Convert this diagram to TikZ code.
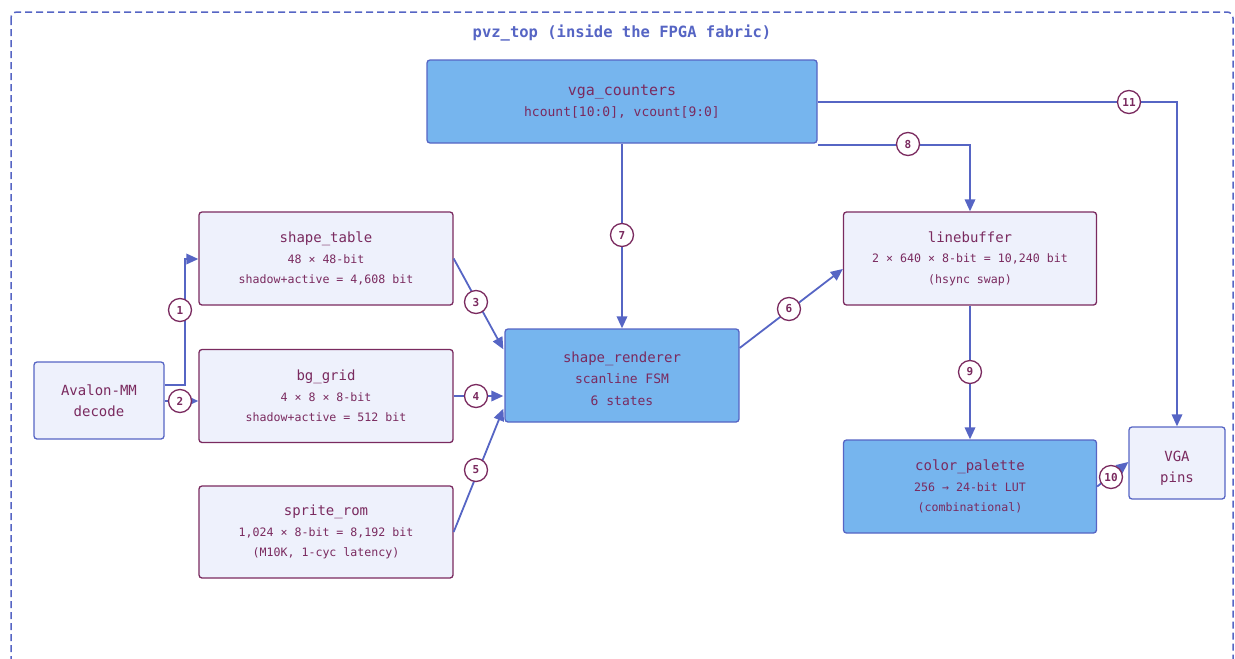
\documentclass[tikz,border=0pt]{standalone}
\usepackage{fontspec}
\newfontfamily\dmono{DejaVu Sans Mono}
\usetikzlibrary{calc,arrows.meta}
\definecolor{lblue}{RGB}{86,101,196}
\definecolor{purp}{RGB}{122,42,95}
\definecolor{pale}{RGB}{238,241,252}
\definecolor{sky}{RGB}{118,181,238}
\tikzset{
  box/.style={draw=purp, line width=1.3pt, fill=pale, rounded corners=3pt, align=center, text=purp, inner sep=0pt, font=\dmono\fontsize{11.6}{20.5}\selectfont},
  hotbox/.style={box, draw=lblue, fill=sky},
  iobox/.style={box, draw=lblue, fill=pale},
  conn/.style={draw=lblue, line width=1.8pt, -{Triangle[length=12pt,width=10.5pt]}},
  num/.style={circle, draw=purp, line width=1.3pt, fill=white, minimum size=23pt, inner sep=0pt, text=purp, font=\dmono\bfseries\fontsize{11}{11}\selectfont},
}
\newcommand{\ttl}[1]{{\fontsize{14}{20.5}\selectfont #1}}
\begin{document}
\begin{tikzpicture}[x=1pt,y=-1pt]
\useasboundingbox (0,0) rectangle (1235,659);
\clip (0,0) rectangle (1235,659);
\draw[lblue, line width=1.5pt, dash pattern=on 7pt off 4pt, rounded corners=6pt] (11,12) rectangle (1233,672);
\node[text=lblue, font=\dmono\bfseries\fontsize{15.5}{18}\selectfont] (title) at (622,33) {pvz\_top (inside the FPGA fabric)};

\node[hotbox, minimum width=390pt, minimum height=83pt] (vga) at (622,101.5) {{\fontsize{15}{21}\selectfont vga\_counters}\\{\fontsize{13}{21}\selectfont hcount[10:0], vcount[9:0]}};
\node[box, minimum width=254pt, minimum height=93pt] (shapetable) at (326,258.5) {\ttl{shape\_table}\\48 × 48-bit\\shadow+active = 4,608 bit};
\node[box, minimum width=254pt, minimum height=93pt] (bggrid) at (326,396) {\ttl{bg\_grid}\\4 × 8 × 8-bit\\shadow+active = 512 bit};
\node[box, minimum width=254pt, minimum height=92pt] (spriterom) at (326,532) {\ttl{sprite\_rom}\\1,024 × 8-bit = 8,192 bit\\(M10K, 1-cyc latency)};
\node[iobox, minimum width=130pt, minimum height=77pt, font=\dmono\fontsize{14}{20.5}\selectfont] (avalon) at (99,400.5) {Avalon-MM\\decode};
\node[hotbox, minimum width=234pt, minimum height=93pt, font=\dmono\fontsize{13}{21.5}\selectfont] (renderer) at (622,375.5) {\rule{0pt}{17pt}{\fontsize{14}{21.5}\selectfont shape\_renderer}\\scanline FSM\\6 states};
\node[box, minimum width=253pt, minimum height=93pt] (linebuf) at (970,258.5) {\ttl{linebuffer}\\2 × 640 × 8-bit = 10,240 bit\\(hsync swap)};
\node[hotbox, minimum width=253pt, minimum height=93pt] (palette) at (970,486.5) {\ttl{color\_palette}\\256 → 24-bit LUT\\(combinational)};
\node[iobox, minimum width=96pt, minimum height=72pt, font=\dmono\fontsize{14}{21}\selectfont] (pins) at (1177,463) {\rule{0pt}{20pt}VGA\\pins};

% connectors
\draw[conn] ($(avalon.east)+(0,-15.5)$) -| ($(shapetable.west)+(-13,0.5)$) -- ($(shapetable.west)+(0,0.5)$);
\draw[conn] ($(avalon.east)+(0,0.5)$) -- ($(bggrid.west)+(0,5)$);
\draw[conn] (shapetable.east) -- ($(renderer.north west)+(-1,21)$);
\draw[conn] (bggrid.east) -- ($(renderer.west)+(-1,20.5)$);
\draw[conn] (spriterom.east) -- ($(renderer.south west)+(-1,-14)$);
\draw[conn] (vga.south) -- (renderer.north);
\draw[conn] ($(renderer.east)+(0,-27.5)$) -- ($(linebuf.west)+(0,10.5)$);
\draw[conn] ($(vga.south east)+(0,1)$) -| (linebuf.north);
\draw[conn] (linebuf.south) -- (palette.north);
\draw[conn] (palette.east) -- ($(pins.west)+(0,-1)$);
\draw[conn] ($(vga.east)+(0,0.5)$) -| (pins.north);

% labels
\node[num] (n1) at (180,310) {1};
\node[num] (n2) at (180,401) {2};
\node[num] (n3) at (476,302) {3};
\node[num] (n4) at (476,396) {4};
\node[num] (n5) at (476,470) {5};
\node[num] (n6) at (789,309) {6};
\node[num] (n7) at (622,235) {7};
\node[num] (n8) at (908,144) {8};
\node[num] (n9) at (970,372) {9};
\node[num] (n10) at (1111,477) {10};
\node[num] (n11) at (1129,102) {11};
\end{tikzpicture}
\end{document}
